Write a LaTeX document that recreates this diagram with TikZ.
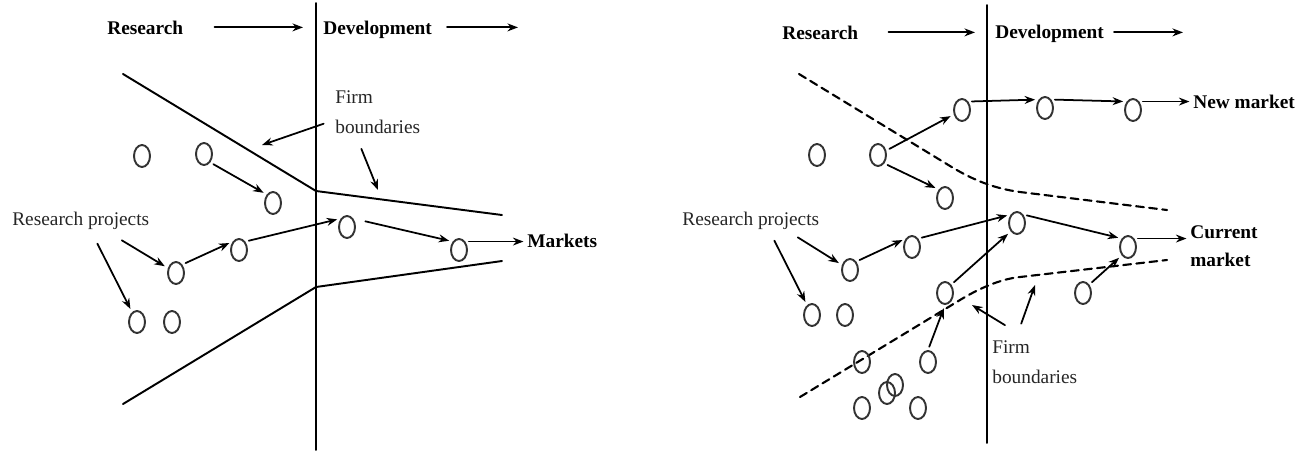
\documentclass[tikz,border=0pt]{standalone}
\usepackage{fontspec}
\setmainfont{Liberation Serif}
\usetikzlibrary{shapes.geometric,arrows.meta,calc}
\begin{document}
\begin{tikzpicture}[x=0.02cm,y=-0.02cm,>={Stealth[length=6pt,width=4.5pt]},line join=round,line cap=round,
	proj/.style={ellipse,draw=black!80,line width=1.1pt,minimum width=0.32cm,minimum height=0.44cm,inner sep=0pt},
	head/.style={font=\fontsize{11}{13}\selectfont\bfseries,inner sep=0pt,anchor=base west},
	lbl/.style={font=\fontsize{11}{17}\selectfont,text=black!85,align=left,inner sep=0pt,anchor=north west},
	arr/.style={->,line width=1pt,shorten <=2pt,shorten >=2pt},
	hd/.style={->,line width=1.1pt},
	bnd/.style={line width=1.1pt},
	fbnd/.style={line width=1.2pt,dash pattern=on 4.5pt off 3pt}]
\useasboundingbox (0,0) rectangle (1311,454);
% left: one firm
\draw[bnd] (316,3)--(316,450);
\node[head] (resL) at (107,34) {Research};
\node[head] (devL) at (323,34) {Development};
\coordinate (resLto) at (303,28);
\coordinate (devLto) at (518,28);
\draw[hd] ($(resL.east)+(31,0)$)--(resL.east -| resLto);
\draw[hd] ($(resL.east -| devL.east)+(15,0)$)--(resL.east -| devLto);
\draw[bnd] (123,74)--(316,191)--(502,215);
\draw[bnd] (123,404)--(316,287)--(502,261);
\foreach \n/\x/\y in {c1/142/156,c2/204/154,c3/273/203,c4/176/273,c5/239/250,c6/137/322,c7/172/322,c8/347/227,c9/459/250}
	\node[proj] (\n) at (\x,\y) {};
\draw[arr] (c2.south east)--(c3.north west);
\draw[arr] (c4.north east)--(c5.north west);
\draw[arr] (c5.north east)--(c8.north west);
\draw[arr,shorten <=7pt] (c8.north east)--(c9.north west);
\node[head] (mk) at (527,247) {Markets};
\draw[arr] (c9.north east)--(c9.north east -| mk.west);
\node[lbl,anchor=base west] (rpL) at (12,225) {Research projects};
\draw[arr] ($(rpL.south)+(38,9)$)--(c4);
\draw[arr] ($(rpL.south)+(15,11)$)--(c6);
\node[lbl] (fbL) at (335,90) {Firm\\boundaries};
\coordinate (fbLa) at (262,145);
\coordinate (fbLb) at (378,190);
\draw[arr,shorten >=0pt] ($(fbL.south west)+(-8,-11)$)--(fbLa);
\draw[arr,shorten >=0pt] ($(fbL.south west)+(25,12)$)--(fbLb);
% right: open boundaries
\draw[bnd] (987,5)--(987,443);
\node[head] (resR) at (782,39) {Research};
\node[head] (devR) at (995,38) {Development};
\coordinate (resRto) at (975,31);
\coordinate (devRto) at (1183,31);
\draw[hd] ($(resR.east)+(30,0)$)--(resR.east -| resRto);
\draw[hd] ($(resR.east -| devR.east)+(10,0)$)--(resR.east -| devRto);
\draw[fbnd] (799,74)--(950,166) .. controls (968,177) and (990,188) .. (1020,192)--(1167,210);
\draw[fbnd] (800,397)--(960,300) .. controls (978,289) and (1000,279) .. (1020,277)--(1167,260);
\foreach \n/\x/\y in {d1/817/155,d2/878/155,d3/962/110,d4/1045/108,d5/1133/110,d6/945/198,d7/850/270,
	d8/912/247,d9/1017/223,d10/1128/247,d11/945/293,d12/1083/293,d13/812/315,d14/845/315,
	d15/862/362,d16/928/362,d17/887/393,d18/895/385,d19/862/408,d20/918/408}
	\node[proj] (\n) at (\x,\y) {};
\draw[arr] (d2)--(d3);
\draw[arr] (d2.south east)--(d6.north west);
\draw[arr] (d3.north east)--(d4.north west);
\draw[arr] (d4.north east)--(d5.north west);
\node[head] (nm) at (1193,108) {New market};
\draw[arr] (d5.north east)--(d5.north east -| nm.west);
\draw[arr] (d7.north east)--(d8.north west);
\draw[arr] (d8.north east)--(d9.north west);
\draw[arr] (d11.north east)--(d9.south west);
\draw[arr] (d16.north)--(d11.south);
\draw[arr] (d9.north east)--(d10.north west);
\draw[arr] (d12.north east)--(d10.south west);
\node[head,font=\fontsize{11}{16}\selectfont\bfseries,align=left,anchor=north west] (cm) at (1190,225) {Current\\market};
\draw[arr] (d10.north east)--(d10.north east -| cm.west);
\node[lbl,anchor=base west] (rpR) at (682,225) {Research projects};
\draw[arr] ($(rpR.south)+(44,6)$)--(d7);
\draw[arr] ($(rpR.south)+(22,8)$)--(d13);
\node[lbl] (fbR) at (992,340) {Firm\\boundaries};
\coordinate (fbRa) at (972,305);
\coordinate (fbRb) at (1035,285);
\draw[arr,shorten >=0pt] ($(fbR.north west)+(16,-13)$)--(fbRa);
\draw[arr,shorten >=0pt] ($(fbR.north west)+(28,-13)$)--(fbRb);
\end{tikzpicture}
\end{document}
